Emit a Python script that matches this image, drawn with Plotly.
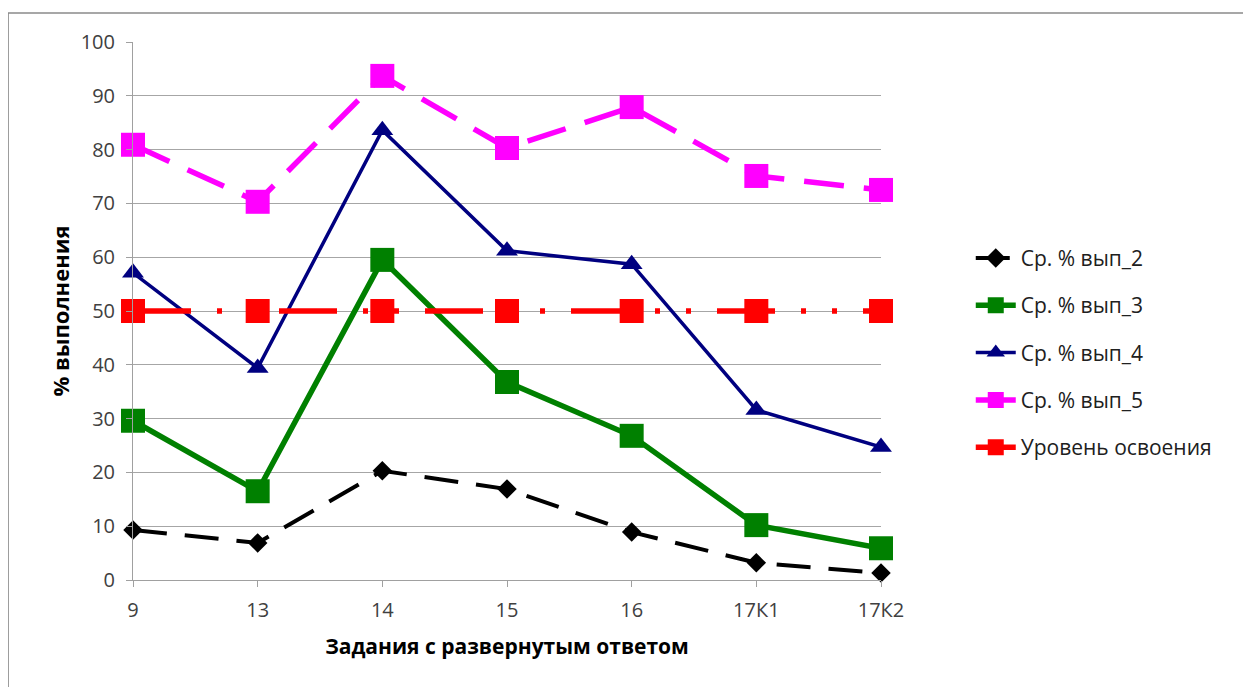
import plotly.graph_objects as go

# Задания и средний % выполнения по группам
tasks = ["9", "13", "14", "15", "16", "17К1", "17К2"]
vyp_2 = [9.3, 6.9, 20.3, 16.9, 8.9, 3.2, 1.3]
vyp_3 = [29.6, 16.5, 59.5, 36.8, 26.8, 10.2, 5.9]
vyp_4 = [57.1, 39.4, 83.6, 61.2, 58.7, 31.6, 24.7]
vyp_5 = [80.9, 70.3, 93.7, 80.3, 87.9, 75.1, 72.5]
level = [50, 50, 50, 50, 50, 50, 50]

FONT = "Open Sans"

series = [
    ("Ср. % вып_2", vyp_2, "#000000", 4, "34px,18px", "diamond", 15),
    ("Ср. % вып_3", vyp_3, "#008000", 5.5, "solid", "square", 24),
    ("Ср. % вып_4", vyp_4, "#000080", 3.5, "solid", "triangle-up", 19),
    ("Ср. % вып_5", vyp_5, "#ff00ff", 5.5, "40px,20px", "square", 24),
    ("Уровень освоения", level, "#ff0000", 5.5, "58px,26px,5px,26px,5px,26px", "square", 24),
]

fig = go.Figure()
for name, vals, color, width, dash, symbol, size in series:
    fig.add_trace(go.Scatter(
        x=tasks, y=vals, name=name, mode="lines+markers", legendgroup=name,
        line=dict(color=color, width=width, dash=dash),
        marker=dict(color=color, symbol=symbol, size=size, line=dict(width=0)),
        cliponaxis=False,
    ))

# page body has an 8px margin, so the figure is offset by 8px
fig.update_layout(
    width=1251, height=687,
    margin=dict(l=125, r=378, t=34, b=115),
    plot_bgcolor="white", paper_bgcolor="white",
    font=dict(family=FONT, size=20, color="#404040"),
    showlegend=True,
    legend=dict(
        x=1.12, y=0.636, xanchor="left", yanchor="top",
        font=dict(family=FONT, size=21, color="#202020"),
        tracegroupgap=17, itemwidth=40,
    ),
    xaxis=dict(
        type="category", range=[0, 6],
        showgrid=False, showline=True, linecolor="#a0a0a0", linewidth=1,
        ticks="outside", ticklen=6, tickcolor="#a0a0a0", ticklabelstandoff=6,
        title=dict(text="<b>Задания с развернутым ответом</b>",
                   font=dict(family=FONT, size=21, color="#000000"), standoff=17),
        zeroline=False,
    ),
    yaxis=dict(
        range=[0, 100], dtick=10,
        showgrid=True, gridcolor="#a6a6a6", gridwidth=1,
        showline=True, linecolor="#a0a0a0", linewidth=1,
        ticks="outside", ticklen=6, tickcolor="#a0a0a0", ticklabelstandoff=7,
        title=dict(text="<b>% выполнения</b>",
                   font=dict(family=FONT, size=22, color="#000000"), standoff=4),
        zeroline=False,
    ),
    shapes=[dict(
        type="rect", xref="paper", yref="paper",
        x0=-0.167, x1=1.6, y0=-0.3, y1=1.054,
        line=dict(color="#8a8a8a", width=1.5), fillcolor="rgba(0,0,0,0)", layer="below",
    )],
)

fig.write_html("out.html")
